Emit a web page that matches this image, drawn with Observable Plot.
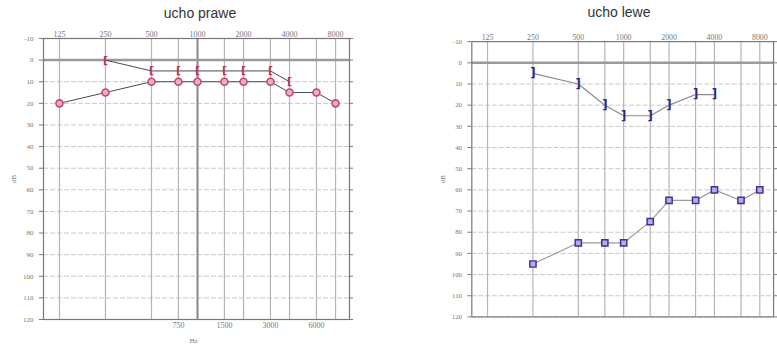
<!DOCTYPE html>
<html>
<head>
<meta charset="utf-8">
<script src="https://cdn.jsdelivr.net/npm/d3@7"></script>
<script src="https://cdn.jsdelivr.net/npm/@observablehq/plot@0.6"></script>
<style>
  html, body { margin: 0; padding: 0; background: #fff; overflow: hidden; }
  #wrap { position: relative; width: 777px; height: 348px; overflow: hidden; }
  .title { position: absolute; font-family: "Liberation Sans", Arial, sans-serif; font-size: 14px; color: #333; transform: translateX(-50%); white-space: nowrap; }
  .chart { position: absolute; top: 0; }
</style>
</head>
<body>
<div id="wrap">
  <div class="title" style="left:200px; top:5px;">ucho prawe</div>
  <div class="title" style="left:619px; top:4px;">ucho lewe</div>
  <div class="chart" id="left" style="left:0px;"></div>
  <div class="chart" id="right" style="left:390px;"></div>
</div>
<script>
// Frequencies (Hz) and hearing levels (dB HL)
const freqs = [125, 250, 500, 750, 1000, 1500, 2000, 3000, 4000, 6000, 8000];
const topTicks = [125, 250, 500, 1000, 2000, 4000, 8000];
const bottomTicks = [750, 1500, 3000, 6000];
const dbTicks = [-10, 0, 10, 20, 30, 40, 50, 60, 70, 80, 90, 100, 110, 120];

// Right ear (ucho prawe)
const rightAirFreq = [125, 250, 500, 750, 1000, 1500, 2000, 3000, 4000, 6000, 8000];
const rightAirDb   = [20, 15, 10, 10, 10, 10, 10, 10, 15, 15, 20];
const rightBoneFreq = [250, 500, 750, 1000, 1500, 2000, 3000, 4000];
const rightBoneDb   = [0, 5, 5, 5, 5, 5, 5, 10];

// Left ear (ucho lewe)
const leftAirFreq = [250, 500, 750, 1000, 1500, 2000, 3000, 4000, 6000, 8000];
const leftAirDb   = [95, 85, 85, 85, 75, 65, 65, 60, 65, 60];
const leftBoneFreq = [250, 500, 750, 1000, 1500, 2000, 3000, 4000];
const leftBoneDb   = [5, 10, 20, 25, 25, 20, 15, 15];

const zip = (f, d) => f.map((x, i) => ({f: x, db: d[i]}));
const rAir = zip(rightAirFreq, rightAirDb);
const rBone = zip(rightBoneFreq, rightBoneDb);
const lAir = zip(leftAirFreq, leftAirDb);
const lBone = zip(leftBoneFreq, leftBoneDb);

const xDomain = [98.3, 9870];
const fontFam = "'Liberation Serif', 'DejaVu Serif', serif";
const axisColor = "#777";

function grid(thick1000) {
  return [
    Plot.ruleY(dbTicks.filter(d => d !== 0 && d !== -10), {y: d => d, stroke: "#c8c8c8", strokeDasharray: "5,2"}),
    Plot.ruleX(freqs, {x: d => d, stroke: "#b4b4b4", strokeWidth: 1.2}),
    ...(thick1000 ? [Plot.ruleX([1000], {x: d => d, stroke: "#8a8a8a", strokeWidth: 2})] : []),
    Plot.ruleY([0], {y: d => d, stroke: "#9a9a9a", strokeWidth: 2.5}),
    Plot.frame({stroke: "#777", strokeWidth: 1.2})
  ];
}

function axes(withBottom) {
  const a = [
    Plot.text(topTicks, {x: d => d, frameAnchor: "top", dy: -7, text: d => String(d), fontSize: 8, fill: axisColor}),
    Plot.axisY({anchor: "left", ticks: dbTicks, tickFormat: d => String(d), tickSize: 4, tickPadding: 6, fontSize: 7, label: "dB", labelAnchor: "center", labelArrow: "none", labelOffset: 32, color: axisColor}),
    Plot.axisY({anchor: "right", ticks: dbTicks, tickFormat: () => "", tickSize: 3, label: null, color: axisColor})
  ];
  if (withBottom) {
    a.push(Plot.text(bottomTicks, {x: d => d, frameAnchor: "bottom", dy: 8, text: d => String(d), fontSize: 8, fill: axisColor}));
    a.push(Plot.text(["Hz"], {frameAnchor: "bottom", dy: 23, dx: -3, text: d => d, fontSize: 7, fill: axisColor}));
  }
  return a;
}

const leftChart = Plot.plot({
  width: 380, height: 348,
  marginLeft: 43, marginRight: 31, marginTop: 38, marginBottom: 29,
  style: {fontFamily: fontFam, background: "transparent", overflow: "visible"},
  x: {type: "log", domain: xDomain, axis: null},
  y: {domain: [-10, 120], reverse: true},
  marks: [
    ...grid(true),
    ...axes(true),
    Plot.line(rBone, {x: "f", y: "db", stroke: "#4a4a4a", strokeWidth: 1}),
    Plot.line(rAir, {x: "f", y: "db", stroke: "#4a4a4a", strokeWidth: 1}),
    Plot.dot(rAir, {x: "f", y: "db", r: 3.5, stroke: "#c04a68", fill: "#eab0bf", strokeWidth: 1.6}),
    Plot.text(rBone, {x: "f", y: "db", text: () => "[", fill: "#b8365a", fontWeight: "bold", fontSize: 11, fontFamily: "'DejaVu Sans', sans-serif"})
  ]
});

const rightChart = Plot.plot({
  width: 395, height: 348,
  marginLeft: 83, marginRight: 4, marginTop: 42, marginBottom: 25,
  style: {fontFamily: fontFam, background: "transparent", overflow: "visible"},
  x: {type: "log", domain: xDomain, axis: null},
  y: {domain: [-10, 120], reverse: true},
  marks: [
    ...grid(false),
    ...axes(false),
    Plot.line(lBone, {x: "f", y: "db", stroke: "#8a8a8a", strokeWidth: 1.2}),
    Plot.line(lAir, {x: "f", y: "db", stroke: "#9a9a9a", strokeWidth: 1.2}),
    Plot.dot(lAir, {x: "f", y: "db", symbol: "square", r: 3.6, stroke: "#3a3490", fill: "#b4acea", strokeWidth: 1.5}),
    Plot.text(lBone, {x: "f", y: "db", text: () => "]", fill: "#2c2a86", fontWeight: "bold", fontSize: 12, fontFamily: "'DejaVu Sans', sans-serif"})
  ]
});

document.getElementById("left").appendChild(leftChart);
document.getElementById("right").appendChild(rightChart);
</script>
</body>
</html>
